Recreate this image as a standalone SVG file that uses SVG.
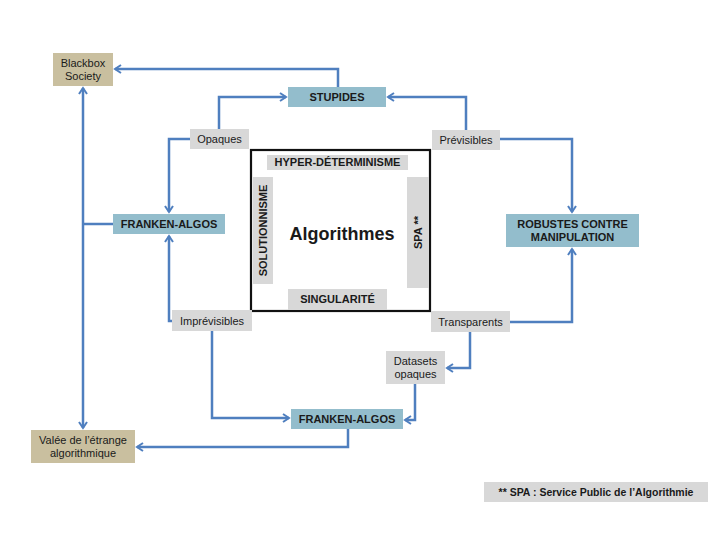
<svg xmlns="http://www.w3.org/2000/svg" width="720" height="540" viewBox="0 0 720 540">
<style>
.bg{fill:#ffffff}
.tan{fill:#c9bf9f}
.blue{fill:#93bdcc}
.gray{fill:#d8d8d8}
.t{font-family:"Liberation Sans",Arial,sans-serif;font-size:11px;fill:#1a1a1a;text-anchor:middle}
.b{font-weight:bold}
.c{fill:none;stroke:#4f7fbf;stroke-width:2.5;stroke-linejoin:miter}
</style>
<defs>
<marker id="ah" viewBox="0 0 10 10" refX="8" refY="5" markerWidth="4" markerHeight="4" orient="auto" markerUnits="strokeWidth">
<path d="M2,1 L8,5 L2,9" fill="none" stroke="#4f7fbf" stroke-width="2"/>
</marker>
</defs>
<rect class="bg" x="0" y="0" width="720" height="540"/>

<g id="connectors">
<path class="c" d="M338,87 V69 H115" marker-end="url(#ah)"/>
<path class="c" d="M219,129 V97 H286" marker-end="url(#ah)"/>
<path class="c" d="M190,139 H169 V212" marker-end="url(#ah)"/>
<path class="c" d="M466,130 V97 H388" marker-end="url(#ah)"/>
<path class="c" d="M500,139 H572 V212" marker-end="url(#ah)"/>
<path class="c" d="M113,224 H83"/>
<path class="c" d="M83,258 V88" marker-end="url(#ah)"/>
<path class="c" d="M83,258 V428" marker-end="url(#ah)"/>
<path class="c" d="M172,321 H169 V236" marker-end="url(#ah)"/>
<path class="c" d="M212,331 V418 H289" marker-end="url(#ah)"/>
<path class="c" d="M348,429 V447 H137" marker-end="url(#ah)"/>
<path class="c" d="M510,322 H572 V249" marker-end="url(#ah)"/>
<path class="c" d="M470,332 V368 H447" marker-end="url(#ah)"/>
<path class="c" d="M415,384 V420 H405" marker-end="url(#ah)"/>
</g>

<g id="blackbox">
<rect class="tan" x="53" y="53" width="60" height="33"/>
<text class="t" x="83" y="67">Blackbox</text>
<text class="t" x="83" y="80">Society</text>
</g>

<g id="stupides">
<rect class="blue" x="288" y="87" width="98" height="20"/>
<text class="t b" x="337" y="101">STUPIDES</text>
</g>

<g id="opaques">
<rect class="gray" x="190" y="129" width="59" height="20"/>
<text class="t" x="219.5" y="143">Opaques</text>
</g>

<g id="previsibles">
<rect class="gray" x="432" y="130" width="68" height="20"/>
<text class="t" x="466" y="144">Prévisibles</text>
</g>

<g id="franken-top">
<rect class="blue" x="113" y="214" width="112" height="20"/>
<text class="t b" x="169" y="228">FRANKEN-ALGOS</text>
</g>

<g id="robustes">
<rect class="blue" x="506" y="214" width="133" height="33"/>
<text class="t b" x="572.5" y="228">ROBUSTES CONTRE</text>
<text class="t b" x="572.5" y="241">MANIPULATION</text>
</g>

<g id="algorithmes">
<rect x="251" y="150" width="179" height="161" fill="#ffffff" stroke="#111111" stroke-width="2.2"/>
<rect class="gray" x="267" y="155" width="141" height="15"/>
<text class="t b" x="337.5" y="166">HYPER-DÉTERMINISME</text>
<rect class="gray" x="253" y="177" width="20" height="107"/>
<text class="t b" transform="translate(267,230.5) rotate(-90)" x="0" y="0">SOLUTIONNISME</text>
<rect class="gray" x="407" y="177" width="22" height="111"/>
<text class="t b" transform="translate(422,232.5) rotate(-90)" x="0" y="0">SPA **</text>
<rect class="gray" x="288" y="289" width="99" height="21"/>
<text class="t b" x="337.5" y="303">SINGULARITÉ</text>
<text class="t b" x="342" y="240" style="font-size:18px">Algorithmes</text>
</g>

<g id="imprevisibles">
<rect class="gray" x="172" y="310" width="80" height="21"/>
<text class="t" x="212" y="324.5">Imprévisibles</text>
</g>

<g id="transparents">
<rect class="gray" x="431" y="311" width="79" height="21"/>
<text class="t" x="470.5" y="325.5">Transparents</text>
</g>

<g id="datasets">
<rect class="gray" x="386" y="351" width="59" height="33"/>
<text class="t" x="415.5" y="365">Datasets</text>
<text class="t" x="415.5" y="378">opaques</text>
</g>

<g id="franken-bottom">
<rect class="blue" x="291" y="409" width="112" height="20"/>
<text class="t b" x="347" y="423">FRANKEN-ALGOS</text>
</g>

<g id="valee">
<rect class="tan" x="31" y="430" width="104" height="33"/>
<text class="t" x="83" y="444">Valée de l’étrange</text>
<text class="t" x="83" y="457">algorithmique</text>
</g>

<g id="footnote">
<rect class="gray" x="484" y="482" width="224" height="20"/>
<text class="t b" x="596" y="496" style="font-size:10.5px">** SPA : Service Public de l’Algorithmie</text>
</g>
</svg>
